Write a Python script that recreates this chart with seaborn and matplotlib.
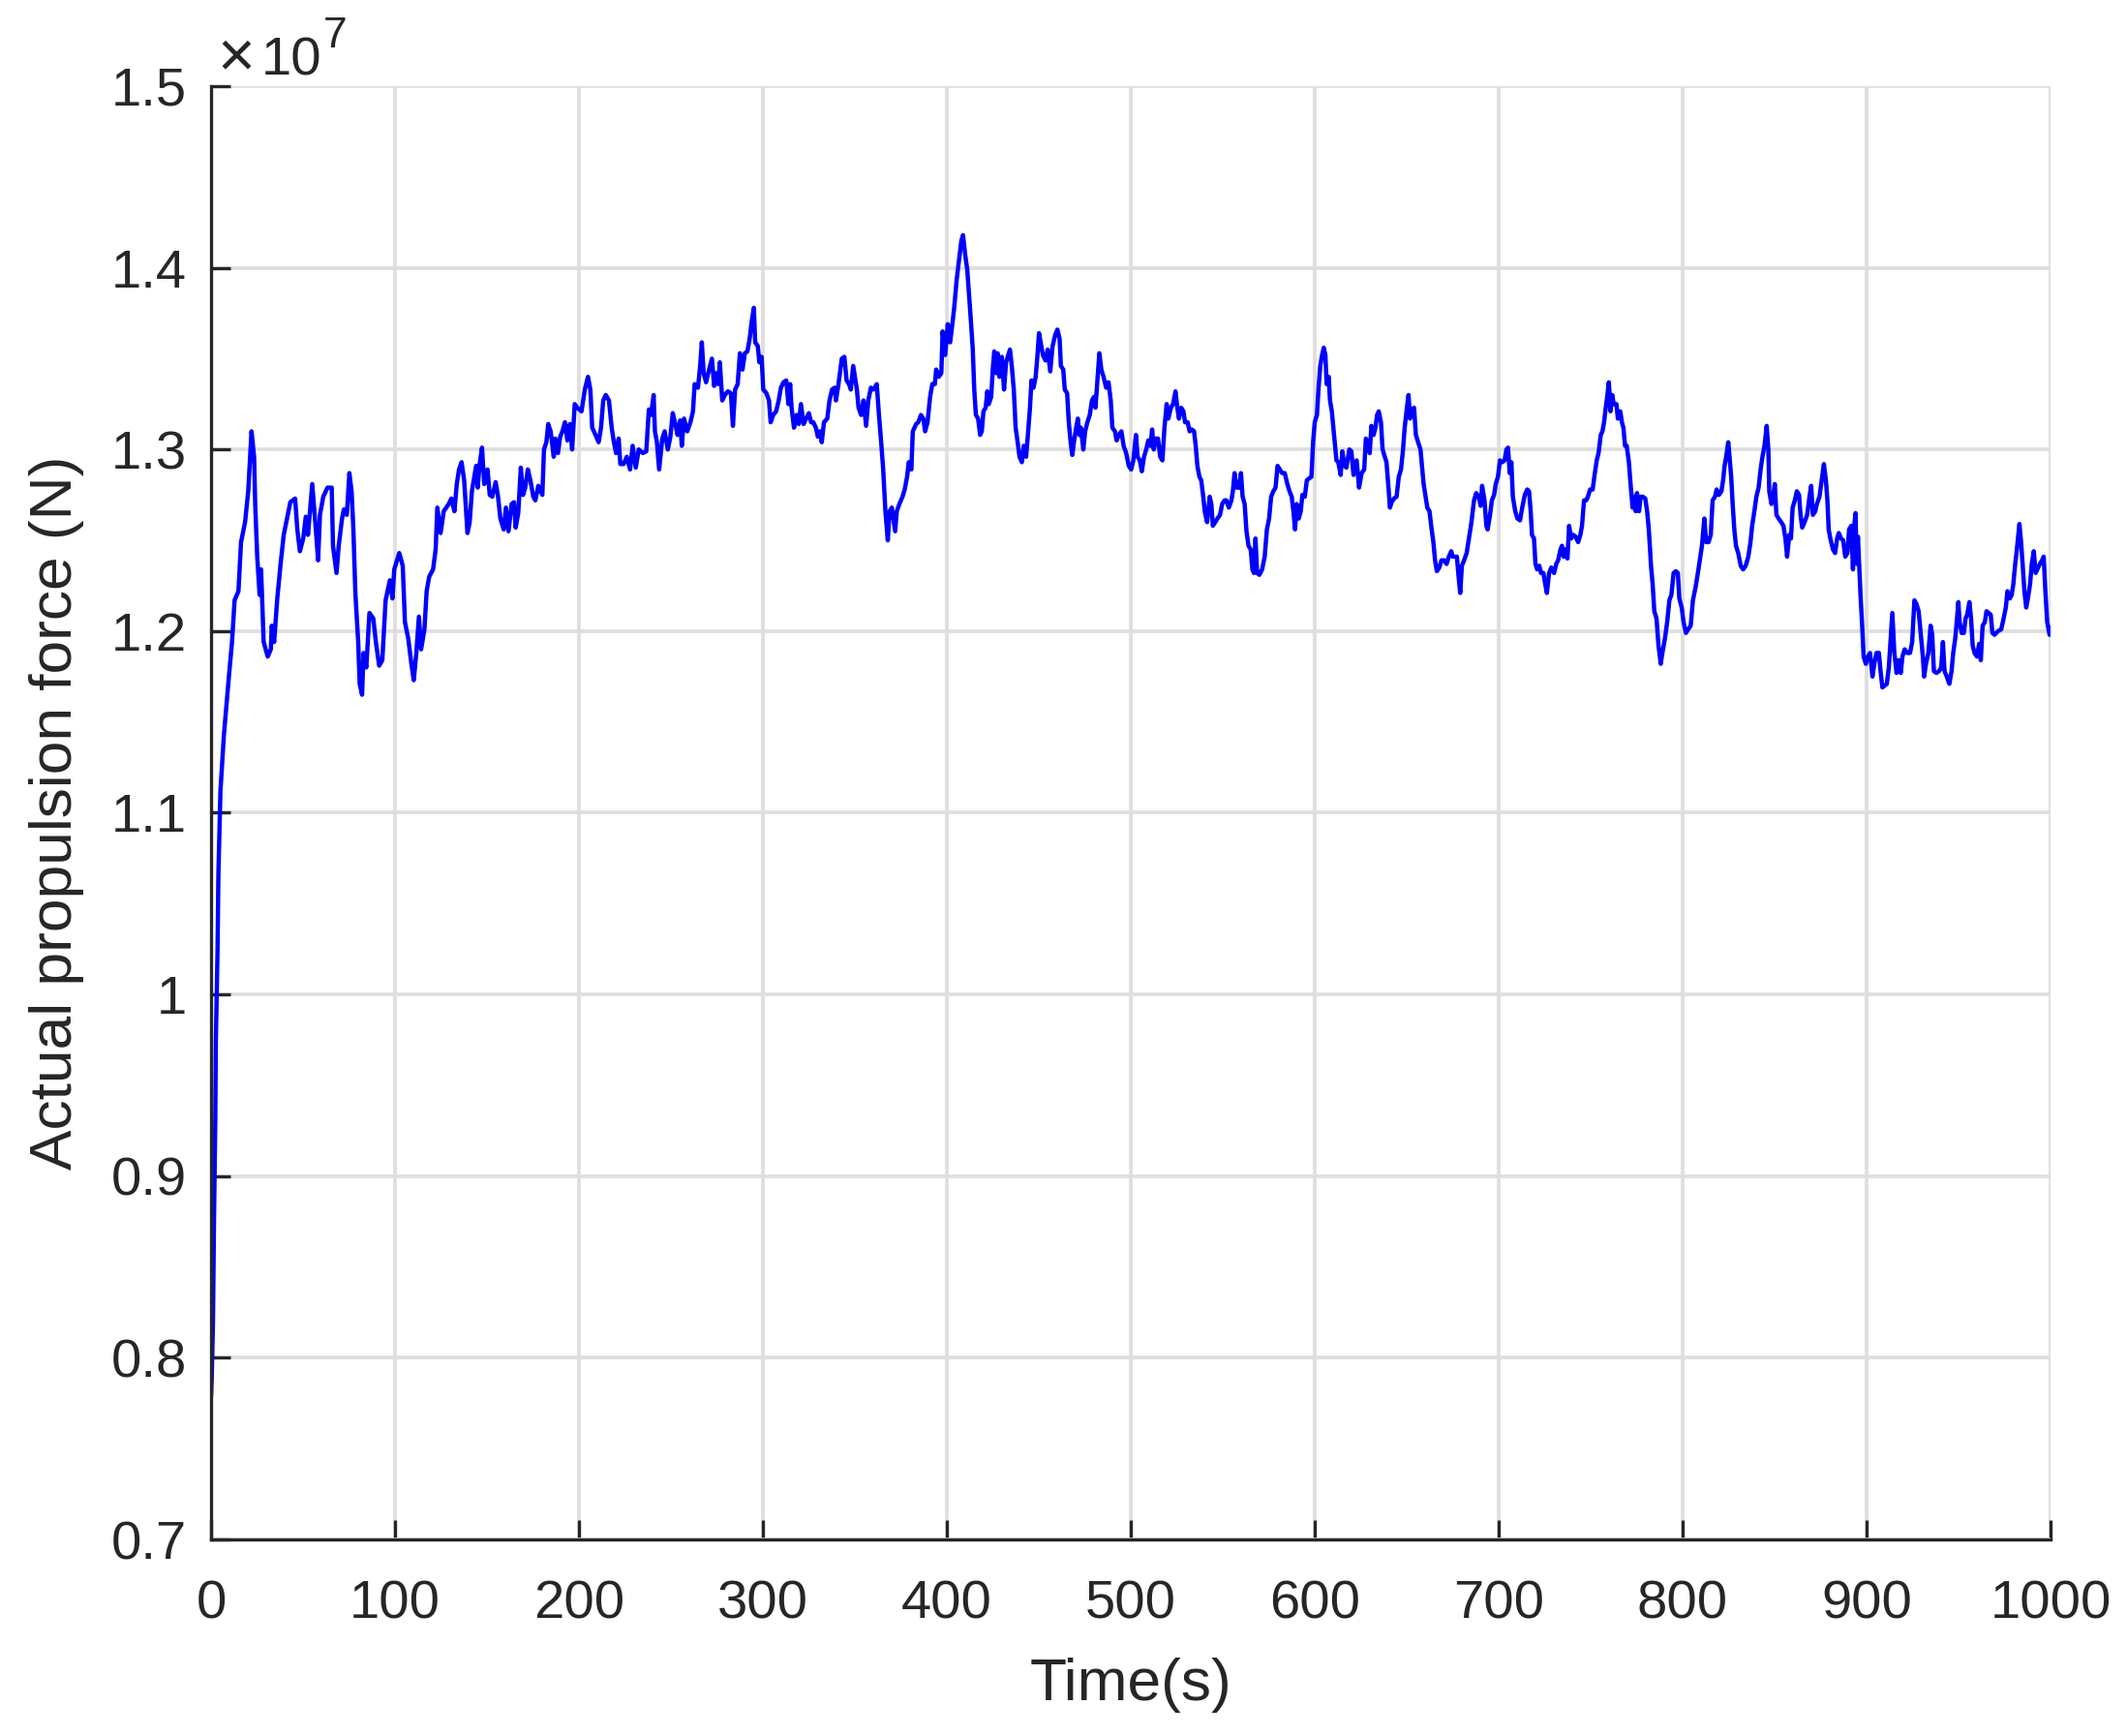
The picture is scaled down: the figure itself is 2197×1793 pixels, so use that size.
import numpy as np
import pandas as pd
import matplotlib
matplotlib.use("Agg")
import matplotlib.pyplot as plt
import seaborn as sns

# ---------------- data (force in units of 1e7 N) ----------------
time_seg1 = [0, 0.4, 1.05, 1.6, 2.3, 2.6, 3.5, 4.0, 5.1, 7.0, 9.7, 11.4, 12.8, 14.9, 16.3, 18.5, 20.2, 22.0, 23.4, 24.0,
             25.1, 26.4, 27.2, 28.6, 30.8, 32.5, 33.0, 34.3, 36.0, 37.8, 39.5, 41.3, 43.1, 45.7, 46.9, 48.3, 50.1, 51.5, 52.7, 55.0,
             56.8, 58.2, 59.2, 61.0, 63.3, 65.6, 66.3, 68.2, 69.4, 71.2, 72.2, 73.8, 75.2, 76.4, 77.3, 78.5, 80.0, 80.8, 82.1, 82.9,
             84.4, 86.1, 88.2, 89.6, 91.4, 93.1, 94.9, 97.2, 98.6, 99.6, 102.3, 104.2, 105.4, 107.2, 108.9, 110.2, 111.6, 113.0, 114.2, 116.0,
             117.2, 118.6, 120.7, 122.1, 123.0, 124.8, 126.5, 129.2, 130.6, 132.3, 133.6, 134.8, 136.2, 137.6, 138.3, 139.4, 140.6, 141.8, 144.1, 145.0,
             145.9, 147.3, 148.5, 150.3, 151.5, 152.9, 154.7, 155.9, 157.3, 159.1, 160.3, 161.7, 163.4, 164.7, 165.6, 167.0, 168.4, 169.6, 170.8, 172.2,
             173.6, 175.2, 176.3, 177.9, 180.1, 181.0, 182.3, 183.3, 184.6, 186.3, 187.2, 188.6, 189.8, 191.0, 192.4, 193.7, 195.1, 196.3, 197.7, 199.1]
force_seg1 = [0.779, 0.79, 0.82, 0.876, 0.93, 0.974, 1.023, 1.067, 1.112, 1.143, 1.175, 1.194, 1.217, 1.222, 1.249, 1.260, 1.277, 1.310, 1.296, 1.270,
              1.241, 1.220, 1.234, 1.194, 1.186, 1.190, 1.203, 1.194, 1.218, 1.237, 1.253, 1.262, 1.271, 1.273, 1.256, 1.244, 1.251, 1.263, 1.253, 1.281,
              1.258, 1.239, 1.264, 1.274, 1.279, 1.279, 1.247, 1.232, 1.247, 1.262, 1.267, 1.264, 1.287, 1.277, 1.258, 1.220, 1.194, 1.171, 1.165, 1.188,
              1.180, 1.210, 1.207, 1.194, 1.181, 1.184, 1.217, 1.228, 1.218, 1.234, 1.243, 1.236, 1.205, 1.196, 1.182, 1.173, 1.188, 1.208, 1.190, 1.201,
              1.222, 1.230, 1.234, 1.245, 1.268, 1.254, 1.266, 1.270, 1.273, 1.266, 1.281, 1.289, 1.293, 1.283, 1.272, 1.254, 1.260, 1.277, 1.291, 1.279,
              1.291, 1.301, 1.281, 1.289, 1.275, 1.274, 1.282, 1.275, 1.262, 1.256, 1.268, 1.255, 1.270, 1.271, 1.257, 1.265, 1.290, 1.275, 1.279, 1.289,
              1.283, 1.274, 1.272, 1.280, 1.275, 1.300, 1.304, 1.314, 1.310, 1.296, 1.306, 1.298, 1.307, 1.310, 1.315, 1.305, 1.314, 1.300, 1.325, 1.323]

time_seg2 = [201.4, 203.2, 204.9, 206.2, 207.2, 209.0, 210.7, 212.0, 213.2, 214.6, 216.3, 217.8, 219.0, 220.2, 221.6, 222.5, 224.3, 226.0, 227.8, 229.2,
             230.9, 232.5, 234.8, 236.6, 238.0, 239.2, 240.6, 241.3, 242.4, 243.6, 245.3, 246.6, 248.3, 249.7, 251.0, 252.4, 253.6, 255.0, 255.9, 257.1,
             258.9, 260.6, 262.0, 262.9, 264.7, 265.9, 266.8, 267.8, 269.1, 270.5, 272.3, 273.5, 274.7, 275.7, 276.6, 277.9, 279.3, 281.0, 282.6, 283.7,
             284.9, 286.3, 287.5, 288.9, 290.2, 291.6, 292.8, 294.0, 295.1, 295.8, 297.2, 298.1, 299.3, 300.2, 301.9, 303.3, 304.2, 305.6, 307.2, 308.6,
             309.8, 311.2, 312.7, 313.9, 314.8, 315.6, 316.9, 318.3, 319.5, 320.7, 322.1, 323.5, 325.0, 326.2, 327.4, 328.8, 329.9, 331.0, 332.0, 333.2,
             335.0, 336.2, 337.6, 339.0, 339.7, 341.1, 342.9, 344.3, 345.5, 346.8, 347.8, 349.1, 350.3, 351.1, 352.0, 353.4, 354.7, 356.1, 357.3, 358.7,
             360.1, 361.9, 363.1, 364.3, 365.4, 366.6, 367.9, 368.9, 370.1, 371.9, 372.8, 374.2, 375.9, 377.1, 378.4, 379.3, 380.7, 381.5, 383.3, 384.5,
             385.9, 387.2, 388.2, 389.5, 390.9, 392.1, 393.5, 394.2, 395.6, 397.0]
force_seg2 = [1.321, 1.333, 1.340, 1.333, 1.312, 1.308, 1.304, 1.312, 1.327, 1.330, 1.327, 1.312, 1.304, 1.298, 1.306, 1.292, 1.292, 1.296, 1.289, 1.302,
              1.290, 1.300, 1.298, 1.299, 1.322, 1.319, 1.330, 1.310, 1.304, 1.289, 1.306, 1.310, 1.300, 1.307, 1.320, 1.314, 1.308, 1.316, 1.302, 1.317,
              1.310, 1.315, 1.321, 1.336, 1.334, 1.346, 1.359, 1.342, 1.337, 1.343, 1.350, 1.335, 1.342, 1.336, 1.348, 1.327, 1.330, 1.332, 1.331, 1.313,
              1.333, 1.336, 1.353, 1.344, 1.353, 1.354, 1.361, 1.371, 1.378, 1.359, 1.357, 1.348, 1.351, 1.333, 1.331, 1.327, 1.315, 1.319, 1.321, 1.327,
              1.334, 1.337, 1.338, 1.325, 1.336, 1.323, 1.312, 1.319, 1.314, 1.325, 1.314, 1.317, 1.320, 1.315, 1.315, 1.312, 1.307, 1.310, 1.304, 1.315,
              1.317, 1.327, 1.333, 1.334, 1.327, 1.336, 1.350, 1.351, 1.338, 1.336, 1.333, 1.346, 1.338, 1.333, 1.323, 1.319, 1.327, 1.313, 1.327, 1.334,
              1.333, 1.336, 1.319, 1.304, 1.289, 1.266, 1.250, 1.266, 1.268, 1.255, 1.266, 1.270, 1.274, 1.278, 1.285, 1.293, 1.289, 1.310, 1.314, 1.315,
              1.319, 1.317, 1.310, 1.315, 1.329, 1.336, 1.336, 1.344, 1.340, 1.342]

time_seg3 = [397.7, 399.1, 400.5, 401.8, 403.0, 404.0, 405.3, 406.5, 407.9, 408.8, 410.0, 411.1, 412.3, 413.2, 414.1, 414.9, 415.8, 417.0, 418.1, 419.0,
             419.9, 421.1, 422.0, 422.8, 424.1, 425.1, 425.8, 426.9, 427.6, 428.6, 429.9, 431.1, 432.2, 433.4, 434.3, 435.3, 436.4, 437.4, 438.5, 439.5,
             440.8, 441.8, 443.1, 443.9, 445.2, 446.0, 447.1, 448.3, 449.2, 450.1, 451.0, 452.2, 453.6, 454.8, 456.2, 457.5, 458.9, 460.1, 461.3, 462.0,
             463.3, 464.1, 465.4, 466.3, 467.3, 468.2, 469.1, 470.3, 471.2, 472.1, 472.9, 474.2, 475.2, 476.4, 477.7, 478.9, 480.0, 480.8, 481.7, 482.9,
             484.0, 485.2, 486.6, 487.9, 489.1, 490.0, 491.4, 492.3, 493.5, 494.9, 496.1, 497.5, 498.9, 500.2, 501.4, 502.8, 503.7, 504.9, 506.0, 507.2,
             508.4, 509.5, 510.7, 511.6, 512.5, 513.7, 514.8, 516.0, 517.2, 518.3, 519.5, 520.4, 521.8, 523.0, 524.3, 525.3, 526.2, 527.4, 528.6, 529.5,
             530.9, 532.0, 533.2, 534.4, 535.3, 536.2, 537.3, 538.3, 539.4, 540.2, 541.5, 542.9, 543.8, 544.6, 545.9, 547.1, 548.5, 549.7, 551.0, 552.0,
             553.3, 554.7, 555.5, 556.4, 557.6, 559.0, 559.9, 560.8, 561.9, 562.9, 564.0, 565.2, 566.1, 567.0, 567.8, 568.7, 569.9, 571.4, 572.8, 574.0,
             575.2, 576.3, 577.5, 578.7, 579.8, 581.0, 582.3, 583.7, 585.1, 586.3, 587.5, 588.4, 589.3, 590.2, 591.3, 592.4, 593.3, 594.6, 595.7]
force_seg3 = [1.365, 1.352, 1.369, 1.359, 1.369, 1.378, 1.393, 1.403, 1.415, 1.418, 1.407, 1.399, 1.382, 1.369, 1.355, 1.333, 1.319, 1.317, 1.308, 1.310,
              1.321, 1.323, 1.332, 1.325, 1.329, 1.346, 1.354, 1.342, 1.353, 1.340, 1.351, 1.333, 1.348, 1.352, 1.355, 1.346, 1.333, 1.312, 1.304, 1.296,
              1.293, 1.302, 1.296, 1.306, 1.323, 1.338, 1.334, 1.340, 1.351, 1.364, 1.359, 1.352, 1.349, 1.355, 1.343, 1.357, 1.363, 1.366, 1.361, 1.346,
              1.344, 1.333, 1.331, 1.315, 1.304, 1.297, 1.304, 1.312, 1.317, 1.308, 1.312, 1.300, 1.310, 1.315, 1.319, 1.327, 1.329, 1.323, 1.336, 1.353,
              1.344, 1.340, 1.334, 1.337, 1.327, 1.312, 1.310, 1.305, 1.308, 1.310, 1.302, 1.298, 1.291, 1.289, 1.294, 1.308, 1.296, 1.294, 1.288, 1.296,
              1.300, 1.305, 1.302, 1.311, 1.300, 1.306, 1.306, 1.296, 1.294, 1.312, 1.325, 1.317, 1.323, 1.325, 1.332, 1.323, 1.317, 1.323, 1.321, 1.315,
              1.315, 1.310, 1.311, 1.310, 1.302, 1.291, 1.285, 1.283, 1.274, 1.266, 1.260, 1.274, 1.270, 1.258, 1.260, 1.262, 1.264, 1.270, 1.272, 1.272,
              1.268, 1.272, 1.277, 1.287, 1.279, 1.279, 1.287, 1.274, 1.270, 1.255, 1.247, 1.245, 1.234, 1.232, 1.251, 1.232, 1.231, 1.234, 1.241, 1.256,
              1.262, 1.274, 1.277, 1.279, 1.291, 1.289, 1.287, 1.287, 1.281, 1.277, 1.274, 1.266, 1.256, 1.270, 1.262, 1.266, 1.275, 1.274, 1.283]

time_seg4 = [596.8, 598.2, 599.1, 600.0, 601.2, 602.1, 603.0, 604.0, 604.9, 605.8, 606.5, 607.6, 608.3, 609.3, 610.5, 611.8, 612.8, 614.1, 615.0, 616.2,
             617.2, 618.8, 619.9, 621.1, 622.8, 624.1, 625.5, 626.9, 627.8, 629.0, 629.9, 630.8, 632.0, 633.0, 633.9, 634.8, 636.0, 636.9, 637.8, 639.0,
             640.1, 640.9, 641.8, 643.1, 644.5, 645.7, 646.9, 648.0, 648.9, 650.1, 651.0, 651.8, 652.7, 654.0, 655.0, 656.2, 657.5, 658.5, 659.2, 660.3,
             661.2, 662.4, 663.3, 664.5, 665.4, 666.4, 667.7, 668.9, 670.3, 671.7, 672.9, 674.2, 675.0, 676.1, 677.3, 678.2, 679.1, 680.0, 681.2, 682.6,
             683.8, 685.2, 686.6, 687.8, 689.1, 690.2, 691.0, 692.3, 693.3, 694.0, 695.3, 696.3, 697.5, 698.4, 699.6, 700.7, 701.9, 703.2, 704.2, 705.1,
             706.0, 706.9, 707.7, 709.0, 710.2, 711.6, 712.8, 714.2, 715.5, 716.5, 717.4, 718.1, 719.2, 720.0, 720.9, 722.1, 723.0, 724.3, 725.3, 726.2,
             727.4, 728.6, 730.1, 731.3, 732.3, 733.6, 734.4, 735.3, 736.2, 737.4, 738.3, 739.4, 740.6, 741.8, 743.2, 744.4, 745.3, 746.4, 747.6, 748.5,
             749.7, 751.1, 752.0, 753.3, 754.3, 755.5, 756.4, 757.3, 758.2, 759.0, 759.9, 760.8, 761.7, 762.6, 764.0, 764.8, 766.1, 767.0, 767.8, 768.7,
             769.6, 770.8, 771.7, 772.8, 773.6, 774.5, 775.2, 776.3, 777.2, 778.4, 779.7, 780.7, 781.6, 782.3, 782.8, 783.7, 784.6, 785.8, 786.9, 788.1,
             789.0, 790.4, 791.6, 792.8, 793.9, 795.1, 796.3, 797.4]
force_seg4 = [1.284, 1.285, 1.304, 1.315, 1.319, 1.334, 1.346, 1.352, 1.356, 1.352, 1.336, 1.340, 1.327, 1.321, 1.308, 1.294, 1.293, 1.286, 1.299, 1.291,
              1.290, 1.300, 1.299, 1.286, 1.294, 1.279, 1.287, 1.289, 1.306, 1.304, 1.298, 1.313, 1.308, 1.312, 1.319, 1.321, 1.315, 1.300, 1.297, 1.293,
              1.279, 1.268, 1.271, 1.273, 1.274, 1.285, 1.289, 1.300, 1.312, 1.323, 1.330, 1.317, 1.322, 1.323, 1.308, 1.304, 1.300, 1.289, 1.281, 1.274,
              1.268, 1.266, 1.258, 1.249, 1.239, 1.233, 1.235, 1.239, 1.239, 1.237, 1.241, 1.244, 1.241, 1.241, 1.241, 1.230, 1.221, 1.236, 1.239, 1.243,
              1.251, 1.260, 1.272, 1.276, 1.274, 1.269, 1.280, 1.272, 1.258, 1.256, 1.264, 1.272, 1.275, 1.281, 1.285, 1.294, 1.293, 1.294, 1.300, 1.301,
              1.287, 1.293, 1.274, 1.266, 1.262, 1.261, 1.268, 1.275, 1.278, 1.277, 1.266, 1.253, 1.251, 1.237, 1.234, 1.236, 1.232, 1.232, 1.226, 1.221,
              1.232, 1.235, 1.232, 1.237, 1.239, 1.245, 1.247, 1.241, 1.245, 1.240, 1.258, 1.251, 1.253, 1.252, 1.249, 1.253, 1.258, 1.272, 1.272, 1.274,
              1.278, 1.278, 1.285, 1.294, 1.298, 1.308, 1.310, 1.315, 1.323, 1.329, 1.337, 1.321, 1.330, 1.325, 1.325, 1.317, 1.321, 1.315, 1.312, 1.302,
              1.302, 1.293, 1.281, 1.268, 1.274, 1.266, 1.276, 1.266, 1.274, 1.274, 1.273, 1.266, 1.256, 1.245, 1.236, 1.226, 1.211, 1.207, 1.192, 1.182,
              1.188, 1.196, 1.205, 1.217, 1.220, 1.232, 1.233, 1.232]

time_seg5 = [798.2, 799.5, 800.5, 801.8, 803.0, 804.4, 805.6, 807.0, 808.3, 809.3, 810.5, 811.8, 812.8, 814.1, 815.3, 816.3, 817.6, 818.5, 819.7, 821.1,
             822.0, 822.8, 823.7, 824.8, 825.5, 826.4, 827.2, 828.1, 829.0, 830.2, 831.6, 832.9, 834.3, 835.7, 836.9, 837.8, 839.0, 840.1, 841.3, 842.4,
             843.4, 844.5, 845.7, 846.6, 847.1, 848.3, 849.2, 850.1, 851.0, 852.2, 853.6, 854.8, 855.9, 856.8, 858.0, 858.9, 859.8, 861.0, 862.1, 863.3,
             864.1, 865.0, 866.3, 867.7, 869.1, 869.9, 870.8, 872.1, 873.0, 874.4, 875.6, 876.8, 877.9, 878.7, 879.4, 880.3, 881.7, 882.9, 884.0, 884.9,
             886.1, 887.3, 888.4, 889.6, 890.5, 891.7, 892.6, 893.3, 894.0, 894.6, 895.3, 896.1, 896.7, 897.6, 898.4, 899.6, 900.7, 901.9, 903.2, 904.2,
             905.4, 906.7, 907.6, 908.6, 909.8, 911.0, 912.1, 913.0, 914.0, 915.1, 916.3, 917.4, 918.6, 919.5, 920.7, 922.1, 923.6, 924.8, 926.0, 927.1,
             928.3, 929.5, 930.6, 931.3, 932.3, 933.6, 934.8, 935.7, 936.6, 938.0, 939.4, 940.6, 941.5, 942.4, 943.6, 945.0, 946.2, 947.1, 948.2, 949.0,
             949.9, 950.6, 951.7, 952.9, 953.8, 954.7, 955.9, 956.8, 957.7, 958.7, 960.0, 961.2, 962.1, 963.1, 964.3, 965.2, 966.4, 967.5, 968.4, 969.6,
             971.4, 973.2, 974.5, 975.7, 976.6, 977.9, 978.9, 979.8, 980.7, 981.5, 982.3, 983.1, 984.0, 984.9, 985.8, 986.8, 987.7, 988.9, 989.8, 990.9,
             991.9, 992.8, 994.2, 995.4, 996.3, 997.2, 998.2, 999.5, 1000.0]
force_seg5 = [1.218, 1.213, 1.205, 1.199, 1.201, 1.203, 1.217, 1.224, 1.232, 1.239, 1.247, 1.262, 1.249, 1.249, 1.253, 1.272, 1.274, 1.278, 1.275, 1.277,
              1.283, 1.291, 1.296, 1.304, 1.296, 1.285, 1.270, 1.256, 1.247, 1.243, 1.236, 1.234, 1.236, 1.241, 1.249, 1.258, 1.266, 1.274, 1.279, 1.289,
              1.296, 1.302, 1.313, 1.300, 1.277, 1.270, 1.274, 1.281, 1.264, 1.262, 1.260, 1.258, 1.251, 1.241, 1.253, 1.251, 1.268, 1.272, 1.277, 1.275,
              1.264, 1.257, 1.260, 1.264, 1.275, 1.280, 1.264, 1.266, 1.270, 1.274, 1.283, 1.292, 1.283, 1.272, 1.256, 1.251, 1.245, 1.243, 1.251, 1.254,
              1.251, 1.250, 1.241, 1.243, 1.256, 1.258, 1.234, 1.258, 1.265, 1.237, 1.252, 1.234, 1.220, 1.203, 1.186, 1.182, 1.186, 1.188, 1.175, 1.182,
              1.188, 1.188, 1.178, 1.169, 1.170, 1.171, 1.180, 1.194, 1.210, 1.188, 1.177, 1.184, 1.177, 1.186, 1.190, 1.188, 1.188, 1.194, 1.217, 1.215,
              1.211, 1.198, 1.186, 1.175, 1.182, 1.188, 1.203, 1.198, 1.178, 1.177, 1.178, 1.180, 1.194, 1.178, 1.175, 1.171, 1.178, 1.188, 1.196, 1.205,
              1.216, 1.205, 1.199, 1.199, 1.207, 1.209, 1.216, 1.207, 1.192, 1.188, 1.186, 1.193, 1.184, 1.203, 1.205, 1.211, 1.210, 1.209, 1.199, 1.198,
              1.200, 1.201, 1.207, 1.213, 1.222, 1.218, 1.220, 1.226, 1.236, 1.243, 1.251, 1.259, 1.249, 1.236, 1.222, 1.213, 1.218, 1.226, 1.237, 1.244,
              1.232, 1.234, 1.237, 1.239, 1.241, 1.222, 1.205, 1.198, 1.202]

x_ticks = [0, 100, 200, 300, 400, 500, 600, 700, 800, 900, 1000]
y_ticks = [0.7, 0.8, 0.9, 1.0, 1.1, 1.2, 1.3, 1.4, 1.5]
y_tick_labels = ["0.7", "0.8", "0.9", "1", "1.1", "1.2", "1.3", "1.4", "1.5"]

segs_t = [time_seg1, time_seg2, time_seg3, time_seg4, time_seg5]
segs_f = [force_seg1, force_seg2, force_seg3, force_seg4, force_seg5]
for i, (a, b) in enumerate(zip(segs_t, segs_f)):
    if len(a) != len(b):
        raise SystemExit(f"segment {i+1}: {len(a)} times vs {len(b)} values")

df = pd.DataFrame({"time": np.concatenate(segs_t), "force": np.concatenate(segs_f)})

# ---------------- styling ----------------
sns.set_style("white")
plt.rcParams["font.family"] = ["Liberation Sans", "DejaVu Sans"]
TXT = "#262626"

W, H, DPI = 2197, 1793, 200
fig = plt.figure(figsize=(W / DPI, H / DPI), dpi=DPI)
L, R, T, B = 218, 2118, 89, 1590
ax = fig.add_axes([L / W, 1 - B / H, (R - L) / W, (B - T) / H])

sns.lineplot(data=df, x="time", y="force", ax=ax, color="#0000ff", linewidth=1.6,
             sort=False, estimator=None, zorder=3)

ax.set_xlim(0, 1000)
ax.set_ylim(0.7, 1.5)
ax.set_xticks(x_ticks)
ax.set_xticklabels([str(v) for v in x_ticks])
ax.set_yticks(y_ticks)
ax.set_yticklabels(y_tick_labels)

ax.grid(True, color="#dedede", linewidth=1.35, zorder=0)
ax.set_axisbelow(True)
for s in ["top", "right"]:
    ax.spines[s].set_visible(False)
for s in ["left", "bottom"]:
    ax.spines[s].set_color(TXT)
    ax.spines[s].set_linewidth(1.2)
    ax.spines[s].set_zorder(4)

ax.tick_params(axis="both", which="major", direction="in", length=7.2, width=1.2, color=TXT,
               labelcolor=TXT, labelsize=20.2, bottom=True, left=True, top=False, right=False)
ax.tick_params(axis="x", pad=15)
ax.tick_params(axis="y", pad=9)

ax.set_xlabel("Time(s)", fontsize=22.4, color=TXT)
ax.set_ylabel("Actual propulsion force (N)", fontsize=22.4, color=TXT)
ax.xaxis.set_label_coords(0.5, -0.081)
ax.yaxis.set_label_coords(-0.069, 0.5)

# exponent annotation (x10^7) at top-left, MATLAB style
fig.text(224 / W, 1 - 78 / H, "\u00d7", fontsize=24, color=TXT, ha="left", va="baseline")
fig.text(270 / W, 1 - 77 / H, "10", fontsize=20.2, color=TXT, ha="left", va="baseline")
fig.text(334 / W, 1 - 49 / H, "7", fontsize=16, color=TXT, ha="left", va="baseline")

fig.savefig("out.png", dpi=DPI, facecolor="white")
